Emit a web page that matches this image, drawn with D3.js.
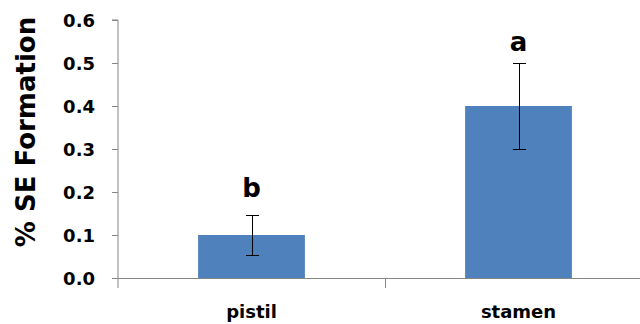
<!DOCTYPE html>
<html>
<head>
<meta charset="utf-8">
<script src="https://cdn.jsdelivr.net/npm/d3@7/dist/d3.min.js"></script>
<style>
  html, body { margin: 0; padding: 0; background: #fff; }
  svg { display: block; }
  text { font-family: "DejaVu Sans", sans-serif; font-weight: bold; fill: #000; }
</style>
</head>
<body>
<svg id="chart" width="640" height="324"></svg>
<script>
// Somatic embryo formation by explant type
const categories = ["pistil", "stamen"];
const means = [0.1, 0.4];
const errors = [0.046, 0.1];
const groupLetters = ["b", "a"];
const yTicks = [0, 0.1, 0.2, 0.3, 0.4, 0.5, 0.6];

const svg = d3.select("#chart");
const axisColor = "#868686";

const plot = { left: 118, right: 652, top: 20, bottom: 278 };

const x = d3.scaleBand().domain(categories).range([plot.left, plot.right]).padding(0);
const y = d3.scaleLinear().domain([0, 0.6]).range([plot.bottom, plot.top]);

const barW = x.bandwidth() * 0.4;

// Bars
svg.append("g").selectAll("rect")
  .data(categories)
  .join("rect")
  .attr("x", (d) => x(d) + (x.bandwidth() - barW) / 2)
  .attr("y", (d, i) => y(means[i]))
  .attr("width", barW)
  .attr("height", (d, i) => y(0) - y(means[i]))
  .attr("fill", "#4F81BD");

// Y axis
const yAxis = svg.append("g")
  .attr("transform", `translate(${plot.left},0)`)
  .call(d3.axisLeft(y).tickValues(yTicks).tickFormat(d3.format(".1f")).tickSize(6).tickPadding(17));
yAxis.select(".domain").attr("stroke", axisColor).attr("d", `M-6,${plot.top}H0V${plot.bottom + 10}`);
yAxis.selectAll(".tick line").attr("stroke", axisColor);
yAxis.selectAll(".tick text").style("font-size", "18px").attr("dy", "0.36em");

// X axis: baseline with category boundary ticks
const xg = svg.append("g");
xg.append("line")
  .attr("x1", plot.left - 6).attr("x2", plot.right)
  .attr("y1", y(0) + 0.5).attr("y2", y(0) + 0.5)
  .attr("stroke", axisColor);
const boundaries = categories.map((d) => x(d)).concat([plot.right]).slice(1);
xg.selectAll("line.bound")
  .data(boundaries)
  .join("line")
  .attr("class", "bound")
  .attr("x1", (d) => Math.round(d) + 0.5).attr("x2", (d) => Math.round(d) + 0.5)
  .attr("y1", y(0)).attr("y2", y(0) + 10)
  .attr("stroke", axisColor);
xg.selectAll("text")
  .data(categories)
  .join("text")
  .attr("x", (d) => x(d) + x.bandwidth() / 2)
  .attr("y", 318)
  .attr("text-anchor", "middle")
  .style("font-size", "18px")
  .text((d) => d);

// Error bars
const capW = 13;
const eb = svg.append("g").attr("stroke", "#000").attr("stroke-width", 1);
categories.forEach((c, i) => {
  const cx = Math.round(x(c) + x.bandwidth() / 2) + 0.5;
  const top = Math.round(y(means[i] + errors[i])) + 0.5;
  const bot = Math.round(y(means[i] - errors[i])) + 0.5;
  eb.append("line").attr("x1", cx).attr("x2", cx).attr("y1", top).attr("y2", bot);
  eb.append("line").attr("x1", cx - capW / 2).attr("x2", cx + capW / 2).attr("y1", top).attr("y2", top);
  eb.append("line").attr("x1", cx - capW / 2).attr("x2", cx + capW / 2).attr("y1", bot).attr("y2", bot);
});

// Significance letters above the error bars
const letterGap = [18, 12];
svg.append("g").selectAll("text")
  .data(groupLetters)
  .join("text")
  .attr("x", (d, i) => x(categories[i]) + x.bandwidth() / 2)
  .attr("y", (d, i) => y(means[i] + errors[i]) - letterGap[i])
  .attr("text-anchor", "middle")
  .style("font-size", "26px")
  .text((d) => d);

// Y axis title
svg.append("text")
  .attr("transform", "translate(35,132) rotate(-90)")
  .attr("text-anchor", "middle")
  .style("font-size", "26px")
  .text("% SE Formation");
</script>
</body>
</html>
